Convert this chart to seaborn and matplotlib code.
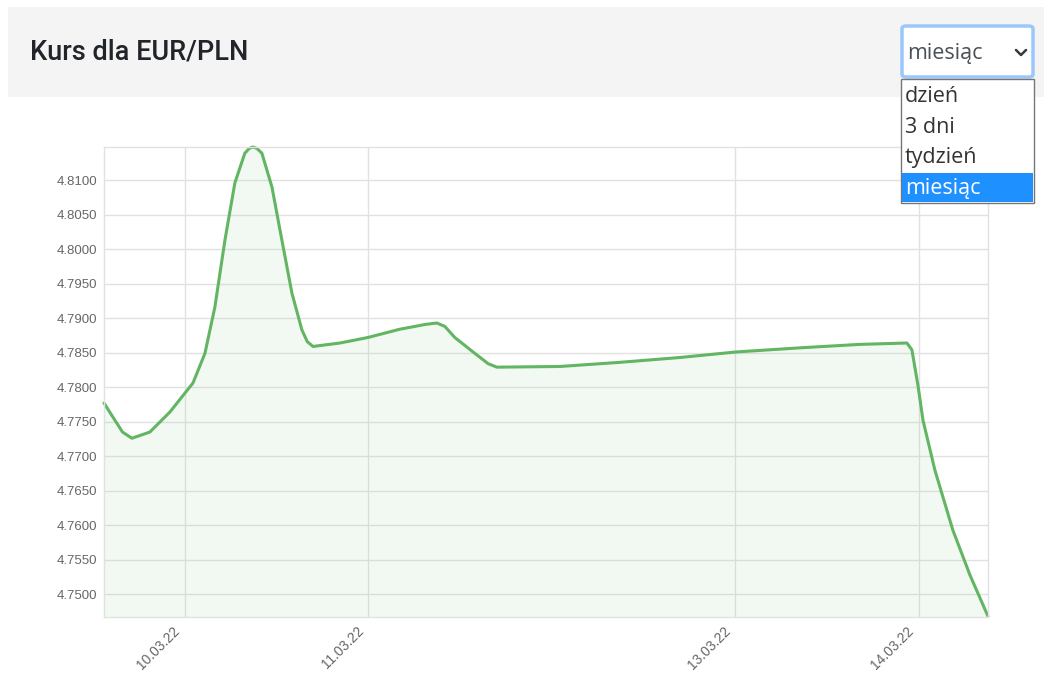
import pandas as pd
import matplotlib.pyplot as plt
import matplotlib.dates as mdates
import matplotlib.transforms as mtrans
from matplotlib.patches import Rectangle, FancyBboxPatch
from matplotlib.lines import Line2D
import seaborn as sns

# Odczytane punkty kursu EUR/PLN
czas = ['2022-03-09 13:25', '2022-03-09 14:51', '2022-03-09 15:50', '2022-03-09 17:04',
        '2022-03-09 19:25', '2022-03-09 22:02', '2022-03-10 01:03', '2022-03-10 02:37',
        '2022-03-10 03:55', '2022-03-10 05:14', '2022-03-10 06:32', '2022-03-10 07:50',
        '2022-03-10 08:25', '2022-03-10 08:53', '2022-03-10 09:25', '2022-03-10 10:04',
        '2022-03-10 11:23', '2022-03-10 12:41', '2022-03-10 14:00', '2022-03-10 15:18',
        '2022-03-10 16:00', '2022-03-10 16:45', '2022-03-10 20:17', '2022-03-10 23:56',
        '2022-03-11 04:07', '2022-03-11 07:30', '2022-03-11 08:57', '2022-03-11 10:00',
        '2022-03-11 11:18', '2022-03-11 13:55', '2022-03-11 15:40', '2022-03-11 16:48',
        '2022-03-12 01:03', '2022-03-12 08:54', '2022-03-12 16:45', '2022-03-13 00:04',
        '2022-03-13 08:26', '2022-03-13 16:16', '2022-03-13 22:26', '2022-03-13 23:05',
        '2022-03-13 23:52', '2022-03-14 00:32', '2022-03-14 02:05', '2022-03-14 04:26',
        '2022-03-14 06:40', '2022-03-14 09:02']
kurs = [4.7777, 4.7752, 4.7735, 4.7726,
        4.7735, 4.7764, 4.7806, 4.7849,
        4.7916, 4.8013, 4.8096, 4.8139,
        4.8146, 4.8148, 4.8146, 4.8139,
        4.8090, 4.8013, 4.7936, 4.7883,
        4.7866, 4.7859, 4.7864, 4.7872,
        4.7884, 4.7891, 4.7893, 4.7888,
        4.7872, 4.7849, 4.7834, 4.7829,
        4.7830, 4.7836, 4.7843, 4.7851,
        4.7857, 4.7862, 4.7864, 4.7854,
        4.7803, 4.7752, 4.7680, 4.7593,
        4.7528, 4.7468]

dni = ['2022-03-10', '2022-03-11', '2022-03-13', '2022-03-14']
y_ticks = [4.7500, 4.7550, 4.7600, 4.7650, 4.7700, 4.7750, 4.7800,
           4.7850, 4.7900, 4.7950, 4.8000, 4.8050, 4.8100]
opcje = ['dzień', '3 dni', 'tydzień', 'miesiąc']

df = pd.DataFrame({'czas': pd.to_datetime(czas), 'kurs': kurs})

sns.set_style('white')
plt.rcParams['font.family'] = ['Liberation Sans', 'DejaVu Sans']

W, H = 1044, 675
fig = plt.figure(figsize=(W / 100, H / 100), dpi=100)


def fx(px):
    return px / W


def fy(py):
    return 1 - py / H


ax = fig.add_axes([fx(104), fy(617), fx(988) - fx(104), fy(147) - fy(617)])

sns.lineplot(data=df, x='czas', y='kurs', ax=ax, color='#62b562', linewidth=2.2)
ax.fill_between(df['czas'], df['kurs'], 4.7467, color='#62b562', alpha=0.08, lw=0)
ax.lines[0].set_clip_on(False)
ax.lines[0].set_solid_joinstyle('round')

ax.set_xlim(df['czas'].iloc[0], df['czas'].iloc[-1])
ax.set_ylim(4.7467, 4.8148)
ax.set_yticks(y_ticks)
ax.set_yticklabels([f'{v:.4f}' for v in y_ticks])
ax.set_xticks(pd.to_datetime(dni))
ax.xaxis.set_major_formatter(mdates.DateFormatter('%d.%m.%y'))
ax.set_xlabel('')
ax.set_ylabel('')
ax.grid(True, color='#e1e1e1', linewidth=1)
ax.tick_params(axis='both', length=0, labelcolor='#666666')
ax.tick_params(axis='y', pad=5, labelsize=9.5)
ax.tick_params(axis='x', pad=5, labelsize=10)
przes = mtrans.ScaledTranslation(-12 / 100, 0, fig.dpi_scale_trans)
for lbl in ax.get_xticklabels():
    lbl.set_rotation(45)
    lbl.set_ha('right')
    lbl.set_rotation_mode('anchor')
    lbl.set_transform(lbl.get_transform() + przes)
for s in ax.spines.values():
    s.set_color('#e1e1e1')
    s.set_linewidth(1)

# naglowek
fig.add_artist(Rectangle((fx(8), fy(97)), fx(1044) - fx(8), fy(7) - fy(97),
                         transform=fig.transFigure, facecolor='#f4f4f4', edgecolor='none', zorder=0))
fig.text(fx(30), fy(52), 'Kurs dla EUR/PLN', fontsize=19.5, fontfamily='Roboto',
         fontweight='medium', color='#212529', va='center', ha='left')

# lista wyboru
fig.add_artist(FancyBboxPatch((fx(902), fy(77)), fx(1033) - fx(902), fy(26) - fy(77),
                              boxstyle='round,pad=0,rounding_size=0.004', transform=fig.transFigure,
                              facecolor='white', edgecolor='#9cc7fb', linewidth=2.5, zorder=5))
fig.text(fx(907), fy(53), 'miesiąc', fontsize=15.5, fontfamily='Open Sans', color='#495057',
         va='center', ha='left', zorder=6)
fig.add_artist(Line2D([fx(1016), fx(1021), fx(1026)], [fy(50), fy(55), fy(50)],
                      transform=fig.transFigure, color='#343a40', linewidth=1.8, zorder=6))

fig.add_artist(Rectangle((fx(901), fy(203)), fx(1034) - fx(901), fy(79) - fy(203),
                         transform=fig.transFigure, facecolor='white', edgecolor='#767676',
                         linewidth=1, zorder=5))
fig.add_artist(Rectangle((fx(902), fy(202)), fx(1033) - fx(902), fy(173) - fy(202),
                         transform=fig.transFigure, facecolor='#1e90ff', edgecolor='none', zorder=6))
for i, op in enumerate(opcje):
    fig.text(fx(905), fy(97 + i * 30.5), op, fontsize=15.5, fontfamily='Open Sans',
             color='white' if op == 'miesiąc' else '#333333', va='center', ha='left', zorder=7)

fig.savefig('out.png', dpi=100)
